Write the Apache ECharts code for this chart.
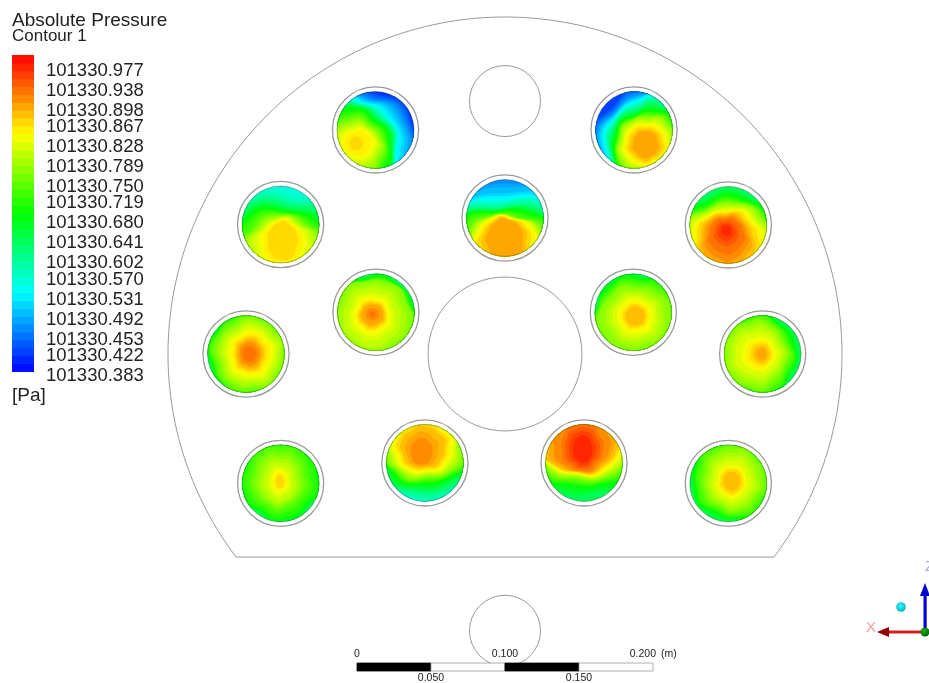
<!DOCTYPE html>
<html><head><meta charset="utf-8">
<style>html,body{margin:0;padding:0;background:#fff}#c{width:929px;height:683px}</style>
<script src="https://cdn.jsdelivr.net/npm/echarts@6/dist/echarts.min.js"></script>
</head><body><div id="c"></div>
<script>
// legend
const legendValues = [101330.977,101330.938,101330.898,101330.867,101330.828,101330.789,101330.750,101330.719,101330.680,101330.641,101330.602,101330.570,101330.531,101330.492,101330.453,101330.422,101330.383];
const legendMin = 101330.383, legendMax = 101331.0, legendBands = 40;
const rainbow = [[0,0,255],[0,255,255],[0,255,0],[255,255,0],[255,0,0]];
// geometry in metres, origin at the centre of the large hole
const wellX = [-0.0875,0.0872,0,-0.1516,0.1509,-0.0872,0.0867,-0.175,0.1741,-0.1516,-0.0541,0.0534,0.1509];
const wellY = [0.1514,0.1514,0.0919,0.0875,0.0872,0.0282,0.0282,0,0,-0.0874,-0.0736,-0.0736,-0.0874];
const holes = [[0,0.1709,0.024],[0,0,0.052],[0,-0.187,0.024]];
const wellRadius = 0.026, ringRadius = 0.0291;
const plateRadius = 0.2277, plateChordY = -0.1372;
const scaleTicks = [0,0.05,0.1,0.15,0.2];
const scaleOriginX = -0.1;
// pressure contours, offset from 101330: [value, dx, dy, rx, ry], outermost first, in well radii
const well01 = [[0.41,-0.5,-0.6,1.75,1.75],[0.47,-0.5,-0.6,1.5,1.55],[0.54,-0.6,-0.6,1.22,1.42],[0.69,-0.6,-0.6,1.0,1.15],[0.78,-0.55,-0.45,0.72,0.68],[0.84,-0.45,-0.35,0.42,0.38],[0.865,-0.5,-0.35,0.18,0.18]];
const well02 = [[0.42,0.45,-0.5,1.6,1.65],[0.48,0.45,-0.5,1.4,1.45],[0.55,0.45,-0.5,1.2,1.35],[0.69,0.42,-0.5,0.97,1.02],[0.78,0.35,-0.42,0.78,0.78],[0.85,0.3,-0.38,0.55,0.52],[0.895,0.3,-0.38,0.33,0.35]];
const well03 = [[0.47,0,-0.9,2,1.85],[0.52,0,-1,2.2,1.65],[0.62,0,-1.2,2.0,1.55],[0.69,0,-1.2,1.8,1.45],[0.76,0,-1.1,1.3,1.2],[0.84,0,-0.75,0.85,0.8],[0.90,0,-0.55,0.42,0.52]];
const well04 = [[0.56,0,-1,2,1.95],[0.63,0,-1.1,2,1.65],[0.70,0,-1.2,1.7,1.55],[0.76,0.05,-1.05,1.25,1.3],[0.82,0.05,-0.65,0.75,0.8],[0.855,0.05,-0.45,0.45,0.55],[0.875,0.05,-0.4,0.28,0.42]];
const well05 = [[0.63,0,-0.5,1.5,1.4],[0.70,0,-0.55,1.45,1.25],[0.78,0,-0.6,1.3,1.15],[0.84,-0.02,-0.55,0.95,0.95],[0.89,-0.05,-0.45,0.68,0.75],[0.93,-0.05,-0.25,0.42,0.42],[0.975,-0.05,-0.15,0.13,0.14]];
const well06 = [[0.63,-0.18,-0.28,1.32,1.3],[0.71,-0.15,-0.2,1.2,1.1],[0.77,-0.1,-0.15,1.02,1.0],[0.80,-0.1,-0.12,0.75,0.78],[0.85,-0.1,-0.08,0.42,0.42],[0.90,-0.09,-0.06,0.26,0.24],[0.925,-0.09,-0.05,0.08,0.08]];
const well07 = [[0.635,0.15,-0.2,1.25,1.25],[0.72,0.1,-0.2,1.12,1.08],[0.77,0.05,-0.18,0.95,0.85],[0.81,0.05,-0.12,0.62,0.6],[0.85,0.05,-0.1,0.38,0.38],[0.885,0.05,-0.1,0.22,0.22]];
const well08 = [[0.66,0.2,0,1.2,1.25],[0.74,0.15,0,1.02,1.05],[0.79,0.12,0,0.82,0.85],[0.84,0.12,0,0.55,0.58],[0.88,0.1,0,0.36,0.42],[0.93,0.09,0,0.18,0.2]];
const well09 = [[0.65,-0.2,-0.05,1.1,1.2],[0.73,-0.25,-0.05,1.02,1.05],[0.78,-0.2,0,0.8,0.82],[0.83,-0.12,0,0.5,0.48],[0.865,-0.05,0,0.28,0.3],[0.895,-0.03,0,0.13,0.15]];
const well10 = [[0.65,0,0.15,1.1,1.15],[0.715,-0.03,0.15,0.95,1.0],[0.75,-0.05,0.12,0.72,0.78],[0.80,-0.03,0.05,0.42,0.52],[0.85,-0.02,0.05,0.16,0.25],[0.875,-0.02,0.05,0.06,0.1]];
const well11 = [[0.55,0,0.4,1.9,1.42],[0.62,0,0.5,1.9,1.25],[0.69,0,0.55,1.35,1.12],[0.76,-0.02,0.5,1.15,0.95],[0.83,-0.05,0.45,0.85,0.75],[0.88,-0.05,0.4,0.58,0.55],[0.915,-0.1,0.28,0.22,0.3]];
const well12 = [[0.63,0,0.4,1.9,1.38],[0.69,0,0.45,1.5,1.12],[0.76,0,0.5,1.3,1.0],[0.83,-0.03,0.55,1.15,0.9],[0.88,-0.1,0.55,1.0,0.82],[0.93,-0.05,0.42,0.55,0.62],[0.98,-0.03,0.35,0.2,0.32]];
const well13 = [[0.66,0.15,0.15,1.15,1.15],[0.73,0.15,0.15,1.0,1.0],[0.78,0.12,0.1,0.72,0.78],[0.83,0.09,0.05,0.42,0.46],[0.87,0.09,0.05,0.27,0.3],[0.89,0.09,0.05,0.12,0.15]];
const wellLayers = [well01,well02,well03,well04,well05,well06,well07,well08,well09,well10,well11,well12,well13];

const FONT = '"Liberation Sans", Arial, sans-serif';
const LINE = '#9a9a9a';
const OFFSET = 101330;

function bandColor(v){
  const span = legendMax - legendMin;
  let t = (v + OFFSET - legendMin) / span;
  t = Math.max(0, Math.min(0.9999, t));
  t = (Math.floor(t * legendBands) + 0.5) / legendBands;
  const p = t * 4, i = Math.floor(p), f = p - i;
  const a = rainbow[i], b = rainbow[i + 1];
  return 'rgb(' + a.map((c, k) => Math.round(c + (b[k] - c) * f)).join(',') + ')';
}
// contour outline: the ellipse with a slight mesh-like roughness, pulled back to the well's edge
function contourPoints(api, cx, cy, L, id){
  const pts = [];
  const small = Math.min(1, Math.min(L[3], L[4]) * 3);
  for (let a = 0; a < 90; a++) {
    const th = a / 90 * Math.PI * 2;
    const rough = 1 + small * (0.035 * Math.sin(5 * th + id * 1.7 + L[0] * 9) + 0.025 * Math.sin(9 * th + id * 2.3 - L[0] * 14));
    let x = L[1] + L[3] * rough * Math.cos(th), y = L[2] + L[4] * rough * Math.sin(th);
    const n = Math.hypot(x, y);
    if (n > 1) { x /= n; y /= n; }
    pts.push(api.coord([cx + x * wellRadius, cy + y * wellRadius]));
  }
  return pts;
}
function renderWell(params, api){
  const cx = api.value(0), cy = api.value(1), id = api.value(2), layers = wellLayers[id];
  const c = api.coord([cx, cy]), kr = api.size([1, 0])[0];
  const children = [{type:'circle', shape:{cx:c[0], cy:c[1], r:ringRadius*kr}, style:{fill:'#fff', stroke:LINE, lineWidth:1.3}}];
  children.push({type:'circle', shape:{cx:c[0], cy:c[1], r:wellRadius*kr}, style:{fill:bandColor(layers[0][0])}});
  for (let i = 0; i + 1 < layers.length; i++) {
    const A = layers[i], B = layers[i + 1];
    const n = Math.max(1, Math.ceil((B[0] - A[0]) / 0.008));
    for (let s = 1; s <= n; s++) {
      const f = s / n, L = A.map((q, k) => q + (B[k] - q) * f);
      children.push({type:'polygon', shape:{points:contourPoints(api, cx, cy, L, id)}, style:{fill:bandColor(L[0])}});
    }
  }
  children.push({type:'circle', shape:{cx:c[0], cy:c[1], r:wellRadius*kr}, style:{fill:'none', stroke:'rgba(50,60,40,0.55)', lineWidth:0.7}});
  return {type:'group', children};
}
function renderHole(params, api){
  const c = api.coord([api.value(0), api.value(1)]), r = api.size([api.value(2), 0])[0];
  return {type:'circle', shape:{cx:c[0], cy:c[1], r}, style:{fill:'none', stroke:LINE, lineWidth:1}};
}
function renderPlate(params, api){
  const start = Math.asin(plateChordY / plateRadius), pts = [];
  for (let a = 0; a <= 240; a++) {
    const th = start + (Math.PI - 2 * start) * a / 240;
    pts.push(api.coord([plateRadius * Math.cos(th), plateRadius * Math.sin(th)]));
  }
  return {type:'polygon', shape:{points:pts}, style:{fill:'none', stroke:LINE, lineWidth:1}};
}
function renderBand(params, api){
  const i = api.value(0);
  const w = (legendMax - legendMin) / legendBands;
  const lo = legendMin + i * w, hi = lo + w;
  const a = api.coord([0, lo]), b = api.coord([1, hi]);
  return {type:'rect', shape:{x:a[0], y:b[1], width:b[0]-a[0], height:a[1]-b[1]+0.5}, style:{fill:bandColor(lo + w/2 - OFFSET)}};
}
function renderScale(params, api){
  const i = params.dataIndex;
  const x0 = api.value(0), x1 = api.value(1);
  const a = api.coord([scaleOriginX + x0, -0.2088]), b = api.coord([scaleOriginX + x1, -0.2142]);
  return {type:'rect', shape:{x:a[0], y:a[1], width:b[0]-a[0], height:b[1]-a[1]},
    style:{fill: i % 2 === 0 ? '#000' : '#fff', stroke: i % 2 === 0 ? '#000' : '#999', lineWidth: 0.8}};
}
function renderScaleLabel(params, api){
  const i = params.dataIndex, x = api.value(0);
  const p = api.coord([scaleOriginX + x, i % 2 === 0 ? -0.2027 : -0.2189]);
  const last = i === scaleTicks.length - 1;
  const txt = x === 0 ? '0' : x.toFixed(3);
  return {type:'text', style:{x:p[0] + (last ? 3 : 0), y:p[1], text:txt, font:'10.5px ' + FONT, fill:'#222', align:last ? 'right' : 'center', verticalAlign:'middle'}};
}

const scaleSegments = scaleTicks.slice(0, -1).map((x, i) => [x, scaleTicks[i + 1]]);
const bandIndex = Array.from({length: legendBands}, (_, i) => [i]);

const chart = echarts.init(document.getElementById('c'), null, {renderer:'canvas'});
const common = {type:'custom', coordinateSystem:'cartesian2d', xAxisIndex:0, yAxisIndex:0, silent:true, clip:false};
chart.setOption({
  animation:false,
  backgroundColor:'#fff',
  title:[
    {text:'Absolute Pressure', left:12, top:11, textStyle:{fontFamily:FONT, fontSize:19, fontWeight:'normal', color:'#222'}, padding:0},
    {text:'Contour 1', left:12, top:28, textStyle:{fontFamily:FONT, fontSize:17, fontWeight:'normal', color:'#222'}, padding:0},
    {text:'[Pa]', left:12, top:386, textStyle:{fontFamily:FONT, fontSize:19, fontWeight:'normal', color:'#222'}, padding:0}
  ],
  grid:[
    {left:1.8, top:13.6, width:917.6, height:666, show:false},
    {left:12, top:55, width:22, height:316.5, show:false}
  ],
  xAxis:[
    {type:'value', gridIndex:0, min:-0.34, max:0.28, show:false},
    {type:'value', gridIndex:1, min:0, max:1, show:false}
  ],
  yAxis:[
    {type:'value', gridIndex:0, min:-0.22, max:0.23, show:false},
    {type:'value', gridIndex:1, min:legendMin, max:legendMax, position:'right',
      axisLine:{show:false}, splitLine:{show:false},
      axisTick:{show:true, length:4, customValues:legendValues, lineStyle:{color:'#999', width:1}},
      axisLabel:{show:true, customValues:legendValues, margin:12, fontFamily:FONT, fontSize:18.5, color:'#222',
        verticalAlign:'top', lineHeight:8, formatter:v => Number(v).toFixed(3)}}
  ],
  series:[
    Object.assign({}, common, {name:'plate', renderItem:renderPlate, data:[[plateRadius, plateChordY]], encode:{x:0,y:1}}),
    Object.assign({}, common, {name:'holes', renderItem:renderHole, data:holes, encode:{x:0,y:1}}),
    Object.assign({}, common, {name:'wells', renderItem:renderWell, data:wellX.map((x, i) => [x, wellY[i], i]), encode:{x:0,y:1}}),
    Object.assign({}, common, {name:'scale', renderItem:renderScale, data:scaleSegments, encode:{x:[0,1]}}),
    Object.assign({}, common, {name:'scaleLabels', renderItem:renderScaleLabel, data:scaleTicks.map(x => [x]), encode:{x:0}}),
    Object.assign({}, common, {name:'legend', xAxisIndex:1, yAxisIndex:1, renderItem:renderBand, data:bandIndex})
  ],
  graphic:{elements:[
    {type:'text', left:661, top:649, silent:true, style:{text:'(m)', font:'10.5px ' + FONT, fill:'#222'}},
    {type:'text', x:866, y:620, silent:true, style:{text:'X', font:'15px ' + FONT, fill:'#f3a0a0'}},
    {type:'text', x:925, y:559, silent:true, style:{text:'Z', font:'15px ' + FONT, fill:'#a8a8e8'}},
    {type:'rect', silent:true, shape:{x:923.5, y:594, width:3.2, height:38}, style:{fill:'#0000d0'}},
    {type:'polygon', silent:true, shape:{points:[[925,583],[920,596],[930,596]]}, style:{fill:'#0000c8'}},
    {type:'rect', silent:true, shape:{x:887, y:630.6, width:38, height:3}, style:{fill:'#d02020'}},
    {type:'polygon', silent:true, shape:{points:[[877,632],[889,627],[889,637]]}, style:{fill:'#900000'}},
    {type:'circle', silent:true, shape:{cx:925, cy:632, r:4.5}, style:{fill:{type:'radial',x:0.4,y:0.35,r:0.7,colorStops:[{offset:0,color:'#20b020'},{offset:1,color:'#006000'}]}}},
    {type:'circle', silent:true, shape:{cx:901, cy:607, r:4.8}, style:{fill:{type:'radial',x:0.45,y:0.4,r:0.7,colorStops:[{offset:0,color:'#30ffff'},{offset:1,color:'#00a0b0'}]}}}
  ]}
});
</script></body></html>
